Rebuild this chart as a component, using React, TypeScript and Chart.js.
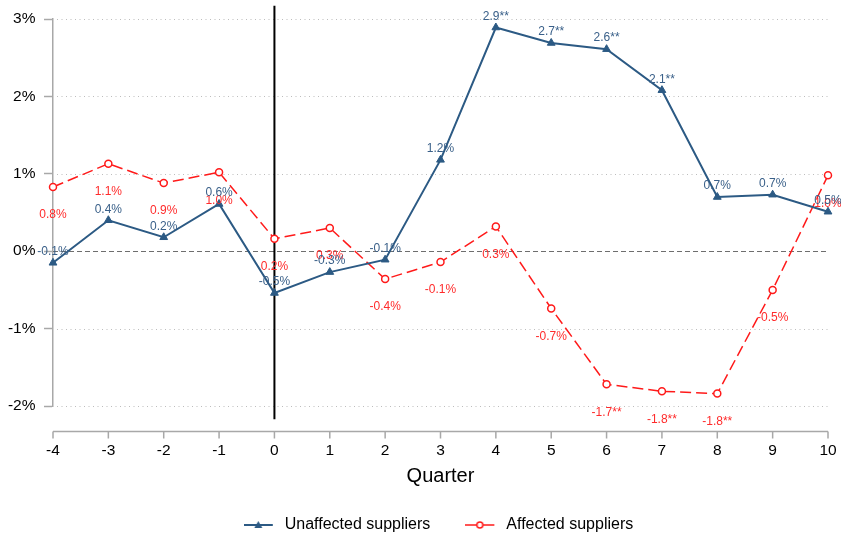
import React, { useEffect, useRef } from "react";
import { Chart, registerables } from "chart.js";

Chart.register(...registerables);

const quarters = ["-4", "-3", "-2", "-1", "0", "1", "2", "3", "4", "5", "6", "7", "8", "9", "10"];
const unaffected = [-0.15, 0.4, 0.18, 0.61, -0.54, -0.27, -0.11, 1.18, 2.89, 2.69, 2.61, 2.08, 0.7, 0.73, 0.51];
const affected = [0.83, 1.13, 0.88, 1.02, 0.16, 0.3, -0.36, -0.14, 0.32, -0.74, -1.72, -1.81, -1.84, -0.5, 0.98];
const unaffectedLabels = ["-0.1%", "0.4%", "0.2%", "0.6%", "-0.5%", "-0.3%", "-0.1%", "1.2%", "2.9**", "2.7**", "2.6**", "2.1**", "0.7%", "0.7%", "0.5%"];
const affectedLabels = ["0.8%", "1.1%", "0.9%", "1.0%", "0.2%", "0.3%", "-0.4%", "-0.1%", "0.3%", "-0.7%", "-1.7**", "-1.8**", "-1.8**", "-0.5%", "1.0%"];
const yTicks = [-2, -1, 0, 1, 2, 3];
const eventQuarter = "0";
const eventLineRange = [-2.17, 3.17];

const BLUE = "#2c5a84";
const BLUE_TEXT = "#3a6089";
const RED = "#ff1a1a";
const RED_TEXT = "#ff2b2b";
const AXIS_GRAY = "#a8a8a8";
const FONT = "'Liberation Sans', Arial, Helvetica, sans-serif";

function makeLegendImage(kind: "tri" | "circ"): HTMLCanvasElement {
  const c = document.createElement("canvas");
  c.width = 37;
  c.height = 12;
  const g = c.getContext("2d")!;
  const y = 6;
  g.beginPath();
  g.moveTo(0, y);
  g.lineTo(29, y);
  if (kind === "tri") {
    g.strokeStyle = BLUE;
    g.lineWidth = 2;
    g.stroke();
    g.beginPath();
    g.moveTo(14.5, y - 4);
    g.lineTo(18.5, y + 3);
    g.lineTo(10.5, y + 3);
    g.closePath();
    g.fillStyle = BLUE;
    g.fill();
  } else {
    g.strokeStyle = RED;
    g.lineWidth = 1.5;
    g.stroke();
    g.beginPath();
    g.arc(14.5, y, 3, 0, Math.PI * 2);
    g.fillStyle = "#fff";
    g.fill();
    g.lineWidth = 1.5;
    g.stroke();
  }
  return c;
}

const decorPlugin = {
  id: "decor",
  beforeDatasetsDraw(chart: any) {
    const { ctx, chartArea, scales } = chart;
    const ys = scales.y;
    const xs = scales.x;
    ctx.save();
    yTicks.forEach((v) => {
      if (v === 0) return;
      const py = Math.round(ys.getPixelForValue(v)) + 0.5;
      ctx.beginPath();
      ctx.setLineDash([1, 3.5]);
      ctx.strokeStyle = "#bdbdbd";
      ctx.lineWidth = 1;
      ctx.moveTo(chartArea.left + 4, py);
      ctx.lineTo(chartArea.right, py);
      ctx.stroke();
    });
    const pz = Math.round(ys.getPixelForValue(0)) + 0.5;
    ctx.beginPath();
    ctx.setLineDash([5, 3]);
    ctx.strokeStyle = "#6e6e6e";
    ctx.lineWidth = 1;
    ctx.moveTo(chartArea.left, pz);
    ctx.lineTo(chartArea.right, pz);
    ctx.stroke();
    const ex = xs.getPixelForValue(quarters.indexOf(eventQuarter));
    ctx.beginPath();
    ctx.setLineDash([]);
    ctx.strokeStyle = "#000";
    ctx.lineWidth = 2;
    ctx.moveTo(ex, ys.getPixelForValue(eventLineRange[1]));
    ctx.lineTo(ex, ys.getPixelForValue(eventLineRange[0]));
    ctx.stroke();
    const axY = chartArea.bottom + 25.5;
    const x0 = xs.getPixelForValue(0);
    const x1 = xs.getPixelForValue(quarters.length - 1);
    ctx.beginPath();
    ctx.strokeStyle = AXIS_GRAY;
    ctx.lineWidth = 1.5;
    ctx.moveTo(x0, axY);
    ctx.lineTo(x1, axY);
    quarters.forEach((_, i) => {
      const px = xs.getPixelForValue(i);
      ctx.moveTo(px, axY);
      ctx.lineTo(px, axY + 7);
    });
    ctx.stroke();
    ctx.restore();
  },
  afterDatasetsDraw(chart: any) {
    const { ctx } = chart;
    ctx.save();
    ctx.font = `12px ${FONT}`;
    ctx.textAlign = "center";
    ctx.textBaseline = "middle";
    const m0 = chart.getDatasetMeta(0);
    const m1 = chart.getDatasetMeta(1);
    m1.data.forEach((pt: any, i: number) => {
      ctx.fillStyle = RED_TEXT;
      ctx.fillText(affectedLabels[i], pt.x, pt.y + 28);
    });
    m0.data.forEach((pt: any, i: number) => {
      ctx.fillStyle = BLUE_TEXT;
      ctx.fillText(unaffectedLabels[i], pt.x, pt.y - 11);
    });
    ctx.restore();
  },
};

export default function App() {
  const ref = useRef<HTMLCanvasElement | null>(null);
  useEffect(() => {
    document.body.style.margin = "0";
    const imgs = [makeLegendImage("tri"), makeLegendImage("circ")];
    const chart = new Chart(ref.current!, {
      type: "line",
      data: {
        labels: quarters,
        datasets: [
          {
            label: "Unaffected suppliers",
            data: unaffected,
            borderColor: BLUE,
            backgroundColor: BLUE,
            borderWidth: 2,
            pointStyle: "triangle",
            pointRadius: 4.5,
            pointBackgroundColor: BLUE,
            pointBorderColor: BLUE,
            pointBorderWidth: 1,
            tension: 0,
          },
          {
            label: "Affected suppliers",
            data: affected,
            borderColor: RED,
            backgroundColor: "#fff",
            borderWidth: 1.5,
            borderDash: [11, 5],
            pointStyle: "circle",
            pointRadius: 3.5,
            pointBackgroundColor: "#fff",
            pointBorderColor: RED,
            pointBorderWidth: 1.5,
            tension: 0,
          },
        ],
      },
      options: {
        responsive: false,
        animation: false,
        events: [],
        layout: { padding: { left: 0, right: 13, top: 19, bottom: -7 } },
        font: { family: FONT },
        plugins: {
          tooltip: { enabled: false },
          legend: {
            position: "bottom",
            fullSize: false,
            labels: {
              usePointStyle: true,
              pointStyleWidth: 29,
              padding: 39,
              color: "#000",
              font: { size: 16, family: FONT },
              generateLabels: (ch: any) =>
                ch.data.datasets.map((ds: any, i: number) => ({
                  text: ds.label,
                  pointStyle: imgs[i],
                  fillStyle: "transparent",
                  strokeStyle: "transparent",
                  lineWidth: 0,
                  hidden: false,
                  datasetIndex: i,
                  fontColor: "#000",
                })),
            },
          },
        },
        scales: {
          x: {
            type: "category",
            offset: false,
            grid: { display: false, drawTicks: true, tickLength: 32 },
            border: { display: false },
            ticks: { color: "#000", font: { size: 15.5, family: FONT }, padding: 3, maxRotation: 0, autoSkip: false },
            title: { display: true, text: "Quarter", color: "#000", font: { size: 20, family: FONT }, padding: { top: 0, bottom: -10 } },
            afterFit: (s: any) => {
              s.height = 72;
            },
          },
          y: {
            min: -2,
            max: 3,
            afterBuildTicks: (s: any) => {
              s.ticks = yTicks.map((v) => ({ value: v }));
            },
            grid: { display: true, drawOnChartArea: false, drawTicks: true, tickLength: 9, tickColor: AXIS_GRAY, tickWidth: 1.5 },
            border: { display: true, color: AXIS_GRAY, width: 1.5 },
            ticks: { color: "#000", font: { size: 15.5, family: FONT }, padding: 8.5, callback: (v: any) => `${v}%` },
            afterFit: (s: any) => {
              s.width = 53;
            },
          },
        },
      },
      plugins: [decorPlugin],
    } as any);
    return () => chart.destroy();
  }, []);
  return (
    <div style={{ width: 841, height: 536 }}>
      <canvas ref={ref} width={841} height={536} />
    </div>
  );
}
